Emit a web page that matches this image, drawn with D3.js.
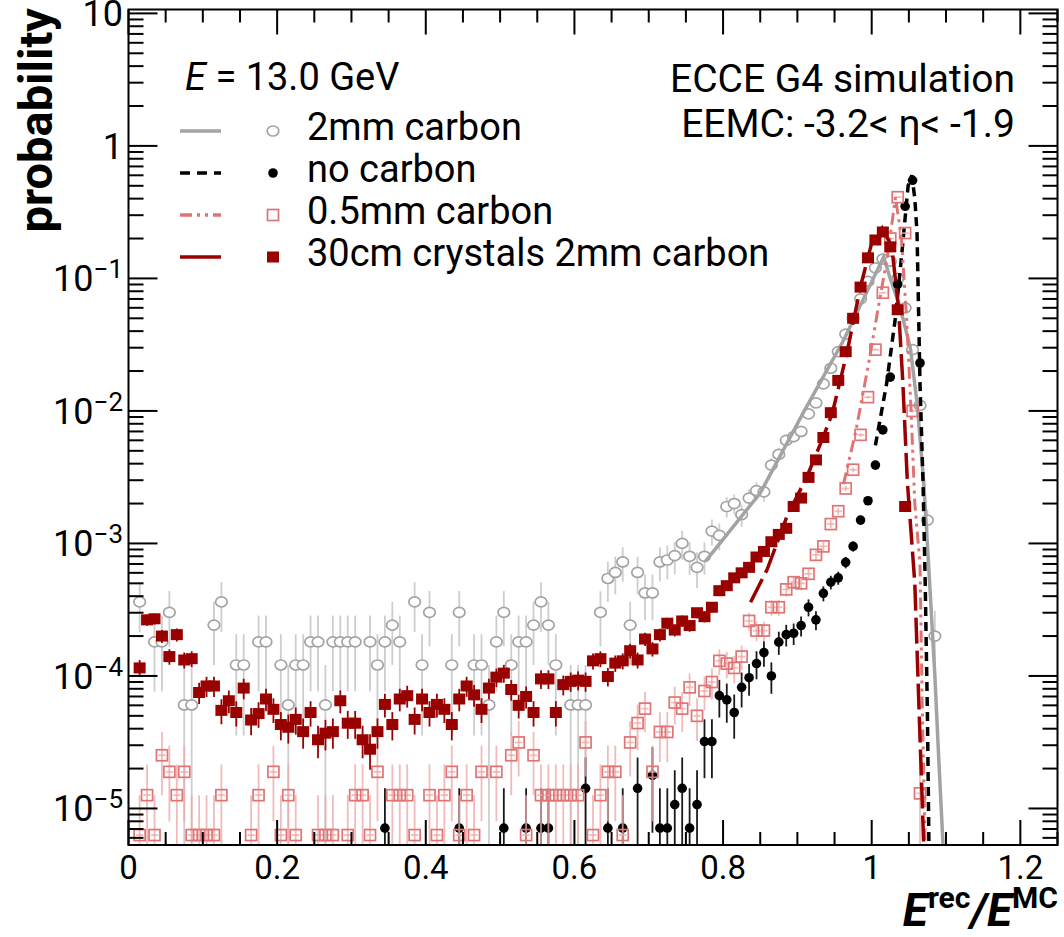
<!DOCTYPE html>
<html>
<head>
<meta charset="utf-8">
<script src="https://cdn.jsdelivr.net/npm/d3@7"></script>
<style>
body { margin: 0; background: #fff; }
svg text { font-family: Roboto, "Liberation Sans", sans-serif; fill: #000; }
</style>
</head>
<body>
<svg id="chart" width="1064" height="937"></svg>
<script>
// Histogramas: una entrada por bin de 0.01 en E_rec/E_MC, null = bin vacío
const BIN_W = 0.01;

// 2mm carbon (círculos abiertos grises)
const carbon2mm = [
  null, 3.62e-4, null, 1.81e-4, 1.81e-4, 3.02e-4, null, 6.04e-5, 6.04e-5, null,
  null, 2.42e-4, 3.62e-4, null, 1.21e-4, 1.21e-4, null, 1.81e-4, 1.81e-4, null,
  1.21e-4, 6.04e-5, 1.21e-4, 1.21e-4, 1.81e-4, 1.81e-4, 6.04e-5, 1.81e-4, 1.81e-4, 1.81e-4,
  1.81e-4, null, 1.81e-4, 1.21e-4, 1.81e-4, 2.42e-4, 1.81e-4, null, 3.62e-4, 1.21e-4,
  3.02e-4, null, null, 1.21e-4, 3.02e-4, null, 1.21e-4, 1.21e-4, 6.04e-5, 1.81e-4,
  3.02e-4, 1.21e-4, 1.81e-4, 1.81e-4, 2.42e-4, 3.62e-4, 2.42e-4, 1.21e-4, null, 6.04e-5,
  6.04e-5, 6.04e-5, null, 3.02e-4, 5.44e-4, 6.04e-4, 7.25e-4, 2.42e-4, 6.04e-4, 4.23e-4,
  4.23e-4, 7.25e-4, 7.5e-4, 8.1e-4, 1.0e-3, 8.0e-4, 6.6e-4, 8.0e-4, 1.24e-3, 1.15e-3,
  1.9e-3, 2.0e-3, 1.65e-3, 2.2e-3, 2.5e-3, 2.45e-3, 3.9e-3, 4.7e-3, 6.0e-3, 6.4e-3,
  7.0e-3, 9.5e-3, 1.15e-2, 1.6e-2, 2.1e-2, 2.8e-2, 3.8e-2, 5.0e-2, 7.0e-2, 9.5e-2,
  0.12, 0.14, 0.135, 0.1, 0.06, 0.029, 0.011, 1.5e-3, 2.0e-4
];

// no carbon (puntos negros)
const noCarbon = [
  null, null, null, null, null, null, null, null, null, null,
  null, null, null, null, null, null, null, null, null, null,
  null, null, null, null, null, null, null, null, null, null,
  null, null, null, null, 7.1e-6, null, null, null, null, null,
  null, null, null, null, 7.1e-6, null, null, null, null, null,
  7.1e-6, null, null, 7.1e-6, null, 7.1e-6, 7.1e-6, null, null, null,
  null, 1.42e-5, null, null, 7.1e-6, null, 7.1e-6, null, 1.42e-5, null,
  1.78e-5, 7.1e-6, 7.1e-6, 1.07e-5, 1.42e-5, 7.1e-6, 1.07e-5, 3.2e-5, 3.2e-5, 7.1e-5,
  6.6e-5, 5.3e-5, 8.2e-5, 9.7e-5, 1.24e-4, 1.5e-4, 1.0e-4, 1.8e-4, 2.05e-4, 2.1e-4,
  2.4e-4, 3.3e-4, 2.65e-4, 4.2e-4, 5.1e-4, 5.5e-4, 7.2e-4, 9.5e-4, 1.5e-3, 2.1e-3,
  3.9e-3, 7.2e-3, 0.018, 0.09, 0.35, 0.55, 0.023
];

// 0.5mm carbon (cuadrados abiertos rosas)
const carbon05mm = [
  null, 6.3e-6, 1.26e-5, 6.3e-6, 2.52e-5, 1.89e-5, 1.26e-5, 1.89e-5, 6.3e-6, 6.3e-6,
  6.3e-6, 6.3e-6, 1.26e-5, null, null, null, 6.3e-6, 1.26e-5, null, 1.89e-5,
  6.3e-6, 1.26e-5, 6.3e-6, null, null, 6.3e-6, 6.3e-6, 6.3e-6, null, 6.3e-6,
  1.26e-5, 1.26e-5, 6.3e-6, 1.89e-5, null, 1.26e-5, 1.26e-5, 1.26e-5, 6.3e-6, null,
  1.26e-5, 6.3e-6, 1.26e-5, 1.89e-5, 6.3e-6, 1.26e-5, 6.3e-6, 1.89e-5, null, 1.89e-5,
  null, 2.52e-5, 3.15e-5, 6.3e-6, 2.52e-5, 1.26e-5, 1.26e-5, 1.26e-5, 1.26e-5, 1.26e-5,
  1.26e-5, 3.15e-5, 6.3e-6, 1.26e-5, 1.89e-5, 1.89e-5, 6.3e-6, 3.15e-5, 4.41e-5, 5.67e-5,
  1.89e-5, 3.78e-5, 3.78e-5, 6.3e-5, 5.67e-5, 8.2e-5, 5.0e-5, 7.7e-5, 9.0e-5, 1.3e-4,
  1.24e-4, 1.15e-4, 1.4e-4, 2.6e-4, 2.2e-4, 2.2e-4, 3.3e-4, 3.3e-4, 4.5e-4, 5.1e-4,
  5.0e-4, 5.9e-4, 8.2e-4, 9.5e-4, 1.4e-3, 1.75e-3, 2.6e-3, 3.6e-3, 6.6e-3, 1.27e-2,
  2.9e-2, 7.8e-2, 0.2, 0.41, 0.22, 0.01, 1.3e-5
];

// 30cm crystals 2mm carbon (cuadrados rojo oscuro)
const crystals30cm = [
  null, 1.15e-4, 2.65e-4, 2.7e-4, 2.0e-4, 1.4e-4, 2.05e-4, 1.32e-4, 1.35e-4, 7.5e-5,
  8.4e-5, 8.4e-5, 5.5e-5, 6.5e-5, 5.3e-5, 8.1e-5, 4.65e-5, 5.2e-5, 6.7e-5, 5.6e-5,
  4.3e-5, 4.1e-5, 4.7e-5, 3.8e-5, 5.3e-5, 3.3e-5, 3.7e-5, 3.8e-5, 6.5e-5, 4.4e-5,
  4.4e-5, 3.3e-5, 2.8e-5, 3.8e-5, 6.1e-5, 4.3e-5, 6.7e-5, 7.1e-5, 4.7e-5, 6.7e-5,
  5.3e-5, 6.1e-5, 5.6e-5, 4.3e-5, 6.7e-5, 8.4e-5, 7.2e-5, 5.6e-5, 8.1e-5, 9.8e-5,
  1.05e-4, 7.9e-5, 6.0e-5, 7.0e-5, 5.3e-5, 9.5e-5, 9.5e-5, 5.3e-5, 8.6e-5, 9.1e-5,
  9.3e-5, 9.1e-5, 1.3e-4, 1.35e-4, 9.9e-5, 1.25e-4, 1.3e-4, 1.55e-4, 1.32e-4, 1.9e-4,
  1.6e-4, 2.05e-4, 2.5e-4, 2.22e-4, 2.6e-4, 2.4e-4, 3.0e-4, 2.8e-4, 3.3e-4, 4.4e-4,
  4.8e-4, 5.5e-4, 6.0e-4, 6.6e-4, 7.9e-4, 8.7e-4, 1.03e-3, 1.17e-3, 1.3e-3, 1.9e-3,
  2.2e-3, 3.15e-3, 4.27e-3, 6.3e-3, 9.7e-3, 1.7e-2, 2.8e-2, 5.0e-2, 8.6e-2, 0.143,
  0.195, 0.224, 0.173, 0.058, 1.9e-3
];

// Peso de una entrada de cada histograma (para las barras de error)
const unit2mm = 6.04e-5, unitNo = 7.1e-6, unit05 = 6.3e-6, unit30 = 2.5e-6;

// Ajustes [x, probabilidad]
const fit2mm = [[0.776, 7.3e-4], [0.85, 2.4e-3], [0.908, 9.7e-3], [0.962, 0.034], [1.016, 0.145],
  [1.025, 0.1], [1.038, 0.061], [1.052, 0.030], [1.061, 0.0115], [1.070, 2.9e-3], [1.079, 4e-4],
  [1.085, 1e-4], [1.090, 2.5e-5], [1.096, 5.3e-6]];
const fitNo = [[1.005, 5.5e-3], [1.02, 0.016], [1.032, 0.051], [1.041, 0.164], [1.049, 0.5], [1.054, 0.6],
  [1.058, 0.4], [1.061, 0.22], [1.065, 0.016], [1.069, 3e-3], [1.072, 5e-4], [1.075, 5e-5], [1.077, 5.3e-6]];
const fit05 = [[0.962, 2.8e-3], [0.979, 7.2e-3], [0.995, 0.0215], [1.009, 0.061], [1.021, 0.145], [1.032, 0.41],
  [1.040, 0.2], [1.047, 0.05], [1.053, 0.01], [1.058, 2e-3], [1.065, 7e-4], [1.068, 6e-5], [1.072, 5.3e-6]];
const fit30 = [[0.837, 3.6e-4], [0.859, 6.3e-4], [0.886, 1.6e-3], [0.913, 3.2e-3], [0.935, 6.4e-3], [0.947, 9.6e-3],
  [0.967, 0.028], [0.985, 0.087], [1.0, 0.185], [1.014, 0.24], [1.027, 0.174], [1.036, 0.061], [1.042, 0.016],
  [1.048, 2.9e-3], [1.058, 5e-4], [1.064, 5e-5], [1.070, 5.3e-6]];

// Ejes
const xTicks = [0, 0.2, 0.4, 0.6, 0.8, 1, 1.2];
const yDecades = [-5, -4, -3, -2, -1, 0, 1];

const legendLabels = ['2mm carbon', 'no carbon', '0.5mm carbon', '30cm crystals 2mm carbon'];

//Colores
const GREY = '#a3a3a3', GREY_BAR = '#c4c4c4', PINK = '#e07474', PINK_BAR = '#eeaaaa', DARKRED = '#990000';

const svg = d3.select('#chart');

let x = d3.scaleLinear().domain([0, 1.25]).range([128.5, 1057.5]);
let y = d3.scaleLog().domain([5.3e-6, 10.7]).range([845, 9.5]);

const X0 = x.range()[0], X1 = x.range()[1], Y0 = y.range()[0], Y1 = y.range()[1];

svg.append('defs').append('clipPath').attr('id', 'clip')
  .append('rect').attr('x', X0).attr('y', Y1).attr('width', X1 - X0).attr('height', Y0 - Y1);

function drawMarker(g, type, cx, cy) {
  if (type == 'circle') {
    g.append('ellipse').attr('cx', cx).attr('cy', cy).attr('rx', 5.8).attr('ry', 5)
      .attr('fill', '#fff').attr('stroke', GREY).attr('stroke-width', 1.7);
  } else if (type == 'dot') {
    g.append('circle').attr('cx', cx).attr('cy', cy).attr('r', 4.8).attr('fill', '#000');
  } else if (type == 'osquare') {
    g.append('rect').attr('x', cx - 5.5).attr('y', cy - 5.5).attr('width', 11).attr('height', 11)
      .attr('fill', 'none').attr('stroke', PINK).attr('stroke-width', 1.7);
  } else {
    g.append('rect').attr('x', cx - 6).attr('y', cy - 5.5).attr('width', 12).attr('height', 11)
      .attr('fill', DARKRED);
  }
}

function drawHist(vals, unit, marker, barColor, barOpacity) {
  const g = svg.append('g').attr('clip-path', 'url(#clip)');
  const pts = [];
  vals.forEach(function(v, i) {
    if (v != null) pts.push({ c: (i + 0.5) * BIN_W, v: v, e: Math.sqrt(v / unit) * unit });
  });
  g.selectAll('line.ey').data(pts).join('line').attr('class', 'ey')
    .attr('x1', d => x(d.c)).attr('x2', d => x(d.c))
    .attr('y1', d => y(d.v + d.e))
    .attr('y2', d => (d.v - d.e > y.domain()[0]) ? y(d.v - d.e) : Y0)
    .attr('stroke', barColor).attr('stroke-opacity', barOpacity).attr('stroke-width', 1.8);
  g.selectAll('line.ex').data(pts).join('line').attr('class', 'ex')
    .attr('x1', d => x(d.c - BIN_W / 2)).attr('x2', d => x(d.c + BIN_W / 2))
    .attr('y1', d => y(d.v)).attr('y2', d => y(d.v))
    .attr('stroke', barColor).attr('stroke-opacity', barOpacity).attr('stroke-width', 1.8);
  pts.forEach(function(d) { drawMarker(g, marker, x(d.c), y(d.v)); });
}

const line = d3.line().x(d => x(d[0])).y(d => y(d[1]));

function drawFit(pts, color, dash, width) {
  svg.append('path').datum(pts).attr('clip-path', 'url(#clip)')
    .attr('d', line).attr('fill', 'none').attr('stroke', color)
    .attr('stroke-width', width).attr('stroke-dasharray', dash);
}

drawHist(carbon2mm, unit2mm, 'circle', GREY_BAR, 0.85);
drawFit(fit2mm, GREY, null, 3.5);
drawHist(noCarbon, unitNo, 'dot', '#000', 0.9);
drawFit(fitNo, '#000', '9,6', 3.5);
drawHist(carbon05mm, unit05, 'osquare', PINK_BAR, 0.8);
drawFit(fit05, PINK, '12,5,3,5,3,5', 3);
drawHist(crystals30cm, unit30, 'square', DARKRED, 1);
drawFit(fit30, DARKRED, '26,7', 3.5);

// Marco y marcas de los ejes
const axes = svg.append('g').attr('stroke', '#000').attr('stroke-width', 2);
axes.append('rect').attr('x', X0).attr('y', Y1).attr('width', X1 - X0).attr('height', Y0 - Y1).attr('fill', 'none');

d3.range(0, 1.2501, 0.05).forEach(function(v) {
  const major = Math.abs(v / 0.2 - Math.round(v / 0.2)) < 1e-6;
  const len = major ? 25 : 13;
  axes.append('line').attr('x1', x(v)).attr('x2', x(v)).attr('y1', Y0).attr('y2', Y0 - len);
  axes.append('line').attr('x1', x(v)).attr('x2', x(v)).attr('y1', Y1).attr('y2', Y1 + len);
});

yDecades.forEach(function(p) {
  for (let m = 1; m <= 9; m++) {
    const v = m * Math.pow(10, p);
    if (v < y.domain()[0] || v > y.domain()[1]) continue;
    const len = m == 1 ? 29 : 15;
    axes.append('line').attr('x1', X0).attr('x2', X0 + len).attr('y1', y(v)).attr('y2', y(v));
    axes.append('line').attr('x1', X1).attr('x2', X1 - len).attr('y1', y(v)).attr('y2', y(v));
  }
});
[6e-6, 7e-6, 8e-6, 9e-6].forEach(function(v) {
  axes.append('line').attr('x1', X0).attr('x2', X0 + 15).attr('y1', y(v)).attr('y2', y(v));
  axes.append('line').attr('x1', X1).attr('x2', X1 - 15).attr('y1', y(v)).attr('y2', y(v));
});

// Etiquetas de los ejes
svg.selectAll('text.xl').data(xTicks).join('text').attr('class', 'xl')
  .attr('x', d => x(d)).attr('y', 879).attr('text-anchor', 'middle')
  .style('font-size', '33px').text(d => d);

yDecades.forEach(function(p) {
  const t = svg.append('text').attr('x', 123).attr('y', y(Math.pow(10, p)) + 13)
    .attr('text-anchor', 'end').style('font-size', '36px');
  if (p == 0) { t.text('1'); }
  else if (p == 1) { t.text('10'); }
  else {
    t.append('tspan').text('10');
    t.append('tspan').attr('dy', -13).style('font-size', '26px').text('\u2212' + (-p));
  }
});

svg.append('text').attr('transform', 'translate(52,8) rotate(-90)')
  .attr('text-anchor', 'end').style('font-size', '47px').style('font-weight', 'bold')
  .text('probability');

const xt = svg.append('text').attr('x', 1058).attr('y', 926).attr('text-anchor', 'end')
  .style('font-weight', 'bold');
xt.append('tspan').style('font-style', 'italic').style('font-size', '46px').text('E');
xt.append('tspan').attr('dy', -18).style('font-size', '30px').text('rec');
xt.append('tspan').attr('dy', 18).style('font-size', '46px').style('font-style', 'italic').text('/');
xt.append('tspan').style('font-style', 'italic').style('font-size', '46px').text('E');
xt.append('tspan').attr('dy', -18).style('font-size', '30px').text('MC');

// Leyenda
const et = svg.append('text').attr('x', 185).attr('y', 90).style('font-size', '38px');
et.append('tspan').style('font-style', 'italic').text('E');
et.append('tspan').text(' = 13.0 GeV');

const legStyles = [
  { color: GREY, dash: null, marker: 'circle' },
  { color: '#000', dash: '10,7', marker: 'dot' },
  { color: PINK, dash: '12,5,3,5,3,5', marker: 'osquare' },
  { color: DARKRED, dash: null, marker: 'square' }
];
const leg = svg.append('g');
legendLabels.forEach(function(lab, i) {
  const cy = 131 + i * 42;
  leg.append('line').attr('x1', 180).attr('x2', 221).attr('y1', cy).attr('y2', cy)
    .attr('stroke', legStyles[i].color).attr('stroke-width', 3.5).attr('stroke-dasharray', legStyles[i].dash);
  drawMarker(leg, legStyles[i].marker, 273, cy);
  leg.append('text').attr('x', 307).attr('y', cy + 9).style('font-size', '38px').text(lab);
});

svg.append('text').attr('x', 1015).attr('y', 92).attr('text-anchor', 'end')
  .style('font-size', '39px').text('ECCE G4 simulation');
svg.append('text').attr('x', 1015).attr('y', 137).attr('text-anchor', 'end')
  .style('font-size', '39px').text('EEMC: -3.2< \u03b7< -1.9');
</script>
</body>
</html>
